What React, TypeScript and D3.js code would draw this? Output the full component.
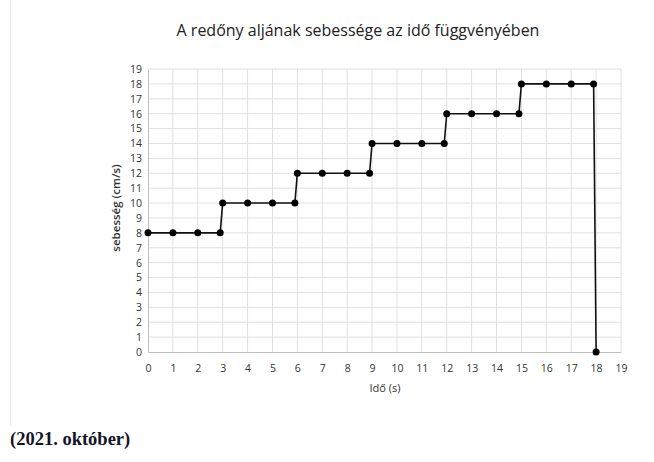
import React, { useEffect, useRef } from "react";
import * as d3 from "d3";

// measured points of the step chart (time in s, speed in cm/s)
const times = [0, 1, 2, 2.9, 3, 4, 5, 5.9, 6, 7, 8, 8.9, 9, 10, 11, 11.9, 12, 13, 14, 14.9, 15, 16, 17, 17.9, 18];
const speeds = [8, 8, 8, 8, 10, 10, 10, 10, 12, 12, 12, 12, 14, 14, 14, 14, 16, 16, 16, 16, 18, 18, 18, 18, 0];
const xTicks = d3.range(0, 20);
const yTicks = d3.range(0, 20);

const title = "A redőny aljának sebessége az idő függvényében";
const xLabel = "Idő (s)";
const yLabel = "sebesség  (cm/s)";
const footer = "(2021. október)";

const App: React.FC = () => {
  const ref = useRef<SVGSVGElement | null>(null);

  useEffect(() => {
    if (!ref.current) return;
    const svg = d3.select(ref.current);
    svg.selectAll("*").remove();

    const left = 148, right = 621, top = 69, bottom = 352;
    const x = d3.scaleLinear().domain([0, 19]).range([left, right]);
    const y = d3.scaleLinear().domain([0, 19]).range([bottom, top]);
    const font = "'Open Sans', 'DejaVu Sans', sans-serif";

    // left page edge line
    svg.append("line")
      .attr("x1", 10.5).attr("x2", 10.5).attr("y1", 0).attr("y2", 425)
      .attr("stroke", "#e4e4e4").attr("stroke-width", 1);

    // grid
    svg.append("g").selectAll("line.h").data(yTicks.slice(1)).enter().append("line")
      .attr("x1", left).attr("x2", right)
      .attr("y1", (d) => y(d)).attr("y2", (d) => y(d))
      .attr("stroke", "#e0e0e0").attr("stroke-width", 1);
    svg.append("g").selectAll("line.v").data(xTicks.slice(1)).enter().append("line")
      .attr("x1", (d) => x(d)).attr("x2", (d) => x(d))
      .attr("y1", top).attr("y2", bottom)
      .attr("stroke", "#e0e0e0").attr("stroke-width", 1);

    // axes
    const xAxis = svg.append("g")
      .attr("transform", `translate(0,${bottom})`)
      .call(d3.axisBottom(x).tickValues(xTicks).tickSize(0).tickPadding(13).tickFormat(d3.format("d")));
    xAxis.select(".domain").attr("stroke", "#bfbfbf");
    const yAxis = svg.append("g")
      .attr("transform", `translate(${left},0)`)
      .call(d3.axisLeft(y).tickValues(yTicks).tickSize(0).tickPadding(6).tickFormat(d3.format("d")));
    yAxis.select(".domain").attr("stroke", "#bfbfbf");
    svg.selectAll(".tick text")
      .attr("font-family", font).attr("font-size", 10.5).attr("fill", "#333");

    // line + points
    const pts = times.map((t, i) => ({ t, v: speeds[i] }));
    svg.append("path").datum(pts)
      .attr("fill", "none").attr("stroke", "#111").attr("stroke-width", 1.6)
      .attr("d", d3.line<{ t: number; v: number }>().x((d) => x(d.t)).y((d) => y(d.v)));
    svg.append("g").selectAll("circle").data(pts).enter().append("circle")
      .attr("cx", (d) => x(d.t)).attr("cy", (d) => y(d.v)).attr("r", 3.5).attr("fill", "#000");

    // texts
    svg.append("text").attr("x", 358).attr("y", 36).attr("text-anchor", "middle")
      .attr("font-family", font).attr("font-size", 16).attr("fill", "#222").text(title);
    svg.append("text").attr("x", 385).attr("y", 392).attr("text-anchor", "middle")
      .attr("font-family", font).attr("font-size", 11).attr("fill", "#333").text(xLabel);
    svg.append("text").attr("transform", "translate(120,208) rotate(-90)").attr("text-anchor", "middle")
      .attr("font-family", font).attr("font-size", 11.5).attr("font-weight", 600).attr("fill", "#333").text(yLabel);
    svg.append("text").attr("x", 10).attr("y", 445)
      .attr("font-family", "'Liberation Serif', 'Times New Roman', serif").attr("font-size", 18.5)
      .attr("font-weight", "bold").attr("fill", "#141428").text(footer);
  }, []);

  return (
    <svg ref={ref} width={654} height={462} style={{ position: "absolute", left: 0, top: 0 }} />
  );
};

export default App;
